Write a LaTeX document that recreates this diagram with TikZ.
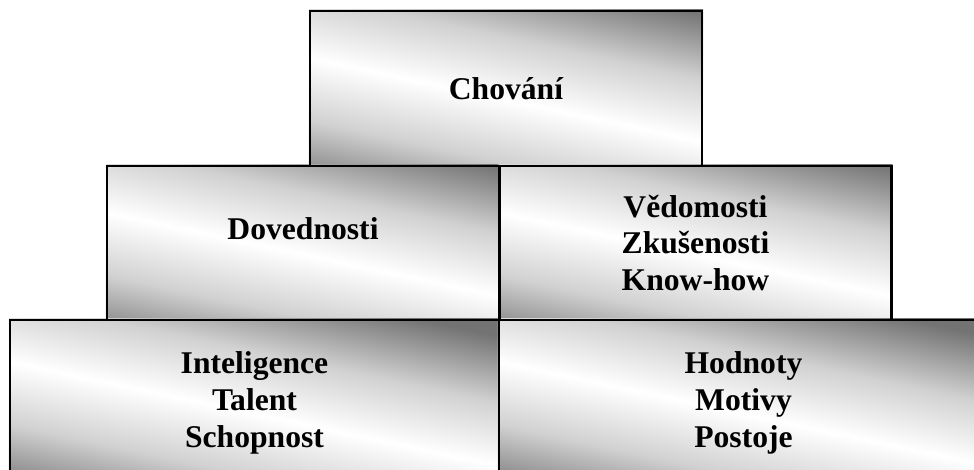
\documentclass[tikz,border=0pt]{standalone}
\usepackage{fontspec}
\setmainfont{Liberation Serif}
\usetikzlibrary{shapes,shadings,backgrounds}
\pgfdeclareverticalshading{glare}{100bp}{color(0bp)=(black!55); color(37.5bp)=(black!55); color(44bp)=(black!18); color(50bp)=(white); color(56bp)=(black!18); color(62.5bp)=(black!55); color(100bp)=(black!55)}
\tikzstyle{block}=[rectangle,draw=black,line width=1.2pt,align=center,inner sep=0pt,font=\bfseries\fontsize{18}{21}\selectfont]
\tikzstyle{midblock}=[block,minimum width=7.84cm,minimum height=3.08cm]
\tikzstyle{lowblock}=[block,minimum width=9.78cm,minimum height=3.3cm]

\begin{document}
\begin{tikzpicture}[x=0.02cm,y=-0.02cm]
   \useasboundingbox (0,0) rectangle (974,470);
   \clip (0,0) rectangle (974,470);

   % top
   \node[midblock,minimum height=3.1cm] (chovani) at (506,88.5) {Chování};

   % middle row
   \node[midblock,text depth=0.56cm] (dovednosti) at (303,243) {Dovednosti};
   \node[midblock] (vedomosti) at (695.5,243) {Vědomosti\\Zkušenosti\\Know-how};

   % bottom row
   \foreach \pos/ \name / \label in {(254.5,402.5)/inteligence/{Inteligence\\Talent\\Schopnost}, (743.5,402.5)/hodnoty/{Hodnoty\\Motivy\\Postoje}}
       \node[lowblock] (\name) at \pos {\label};

   % diagonal grey-white-grey fill behind every box
   \begin{pgfonlayer}{background}
   \foreach \name in {chovani,dovednosti,vedomosti,inteligence,hodnoty}{
      \begin{scope}
         \clip (\name.south west) rectangle (\name.north east);
         \begin{scope}[transform canvas={rotate around={-12:(\name.center)}}]
            \shade[shading=glare,shift={(\name.center)}] (-420,-243) rectangle (420,265);
         \end{scope}
      \end{scope}}
   \end{pgfonlayer}
\end{tikzpicture}
\end{document}
